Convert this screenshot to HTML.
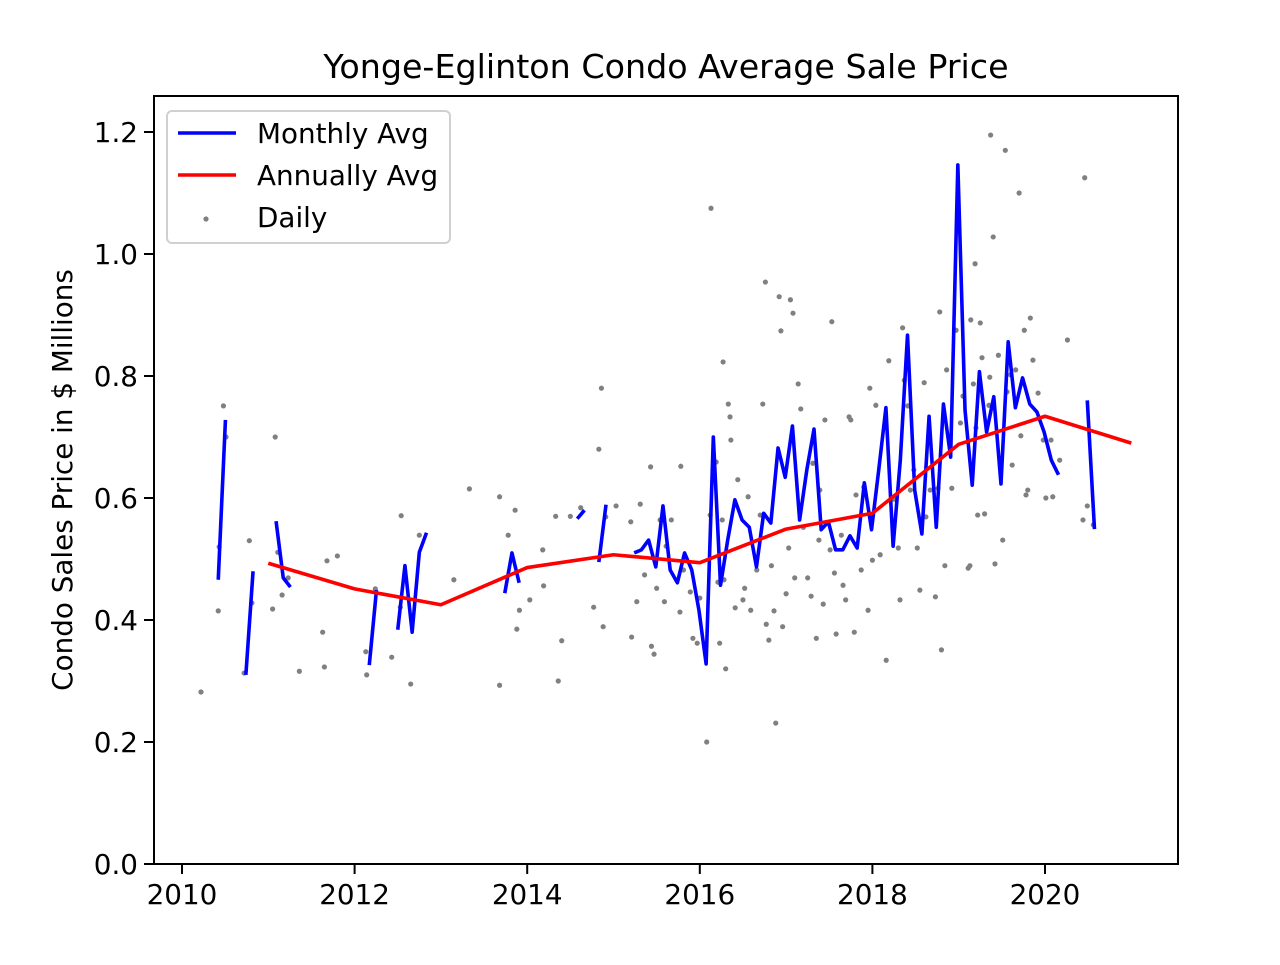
<!DOCTYPE html>
<html><head><meta charset="utf-8"><style>
html,body{margin:0;padding:0;background:#fff}
svg text{font-family:"DejaVu Sans","Liberation Sans",sans-serif;fill:#000}
</style></head><body>
<svg id="chart" width="1280" height="960" xmlns="http://www.w3.org/2000/svg">
<rect width="1280" height="960" fill="#fff"/>
<g id="plot"></g>
</svg>
<script>
const xTicks=[2010,2012,2014,2016,2018,2020];
const yTicks=[0.0,0.2,0.4,0.6,0.8,1.0,1.2];
const yTickLabels=["0.0","0.2","0.4","0.6","0.8","1.0","1.2"];
const annualYears=[2011,2012,2013,2014,2015,2016,2017,2018,2019,2020,2021];
const annualValues=[0.493,0.451,0.425,0.486,0.507,0.494,0.549,0.575,0.688,0.734,0.690];
const monthlyStarts=[2010.42,2010.74,2011.09,2012.17,2012.50,2013.74,2014.58,2014.83,2015.24,2020.49];
const monthlyValues=[
[0.466,0.728],
[0.31,0.48],
[0.562,0.469,0.454],
[0.326,0.449],
[0.384,0.489,0.38,0.511,0.543],
[0.444,0.51,0.461],
[0.566,0.58],
[0.495,0.589],
[0.51,0.515,0.531,0.487,0.587,0.482,0.461,0.51,0.482,0.416,0.328,0.70,0.457,0.531,0.597,0.564,0.552,0.487,0.575,0.559,0.682,0.634,0.718,0.564,0.646,0.713,0.548,0.561,0.515,0.515,0.538,0.518,0.625,0.548,0.646,0.748,0.521,0.662,0.867,0.613,0.541,0.734,0.552,0.754,0.667,1.146,0.744,0.621,0.807,0.708,0.766,0.623,0.856,0.748,0.797,0.754,0.741,0.708,0.662,0.638],
[0.76,0.549]
];
const dailyDates=[2010.22,2010.42,2010.43,2010.48,2010.51,2010.72,2010.78,2010.81,2011.05,2011.08,2011.11,2011.16,2011.23,2011.36,2011.63,2011.65,2011.68,2011.80,2012.13,2012.14,2012.24,2012.43,2012.54,2012.53,2012.65,2012.75,2013.15,2013.33,2013.68,2013.68,2013.78,2013.86,2013.88,2013.91,2014.03,2014.18,2014.19,2014.33,2014.36,2014.40,2014.50,2014.62,2014.77,2014.83,2014.86,2014.88,2014.91,2015.03,2015.20,2015.21,2015.27,2015.31,2015.36,2015.43,2015.44,2015.47,2015.50,2015.54,2015.59,2015.61,2015.67,2015.77,2015.78,2015.81,2015.89,2015.92,2015.97,2016.00,2016.08,2016.12,2016.13,2016.19,2016.21,2016.23,2016.26,2016.27,2016.28,2016.30,2016.33,2016.35,2016.36,2016.41,2016.44,2016.50,2016.52,2016.56,2016.59,2016.66,2016.70,2016.73,2016.76,2016.77,2016.80,2016.83,2016.86,2016.88,2016.92,2016.94,2016.96,2017.00,2017.03,2017.05,2017.08,2017.10,2017.14,2017.17,2017.20,2017.25,2017.29,2017.31,2017.35,2017.38,2017.39,2017.43,2017.45,2017.51,2017.53,2017.56,2017.58,2017.64,2017.66,2017.69,2017.73,2017.75,2017.79,2017.81,2017.87,2017.90,2017.95,2017.97,2018.00,2018.04,2018.09,2018.16,2018.19,2018.25,2018.30,2018.32,2018.35,2018.37,2018.41,2018.44,2018.48,2018.52,2018.55,2018.60,2018.62,2018.67,2018.73,2018.76,2018.78,2018.80,2018.84,2018.86,2018.92,2018.97,2019.02,2019.05,2019.11,2019.13,2019.14,2019.17,2019.19,2019.20,2019.22,2019.25,2019.27,2019.30,2019.35,2019.36,2019.37,2019.40,2019.42,2019.46,2019.51,2019.54,2019.56,2019.60,2019.62,2019.66,2019.70,2019.72,2019.76,2019.78,2019.80,2019.83,2019.86,2019.92,2019.98,2020.01,2020.07,2020.09,2020.17,2020.26,2020.44,2020.46,2020.49,2020.56];
const dailyValues=[0.282,0.415,0.52,0.751,0.70,0.313,0.53,0.428,0.418,0.70,0.511,0.441,0.469,0.316,0.38,0.323,0.497,0.505,0.348,0.31,0.451,0.339,0.571,0.421,0.295,0.539,0.466,0.615,0.293,0.602,0.539,0.58,0.385,0.416,0.433,0.515,0.456,0.57,0.30,0.366,0.57,0.584,0.421,0.68,0.78,0.389,0.569,0.587,0.561,0.372,0.43,0.59,0.474,0.651,0.357,0.344,0.452,0.564,0.43,0.521,0.564,0.413,0.652,0.482,0.446,0.37,0.362,0.436,0.20,0.572,1.075,0.659,0.462,0.362,0.564,0.823,0.466,0.32,0.754,0.733,0.695,0.42,0.63,0.433,0.452,0.602,0.416,0.482,0.572,0.754,0.954,0.393,0.367,0.489,0.415,0.231,0.93,0.874,0.389,0.443,0.518,0.925,0.903,0.469,0.787,0.746,0.552,0.469,0.439,0.657,0.37,0.531,0.613,0.426,0.728,0.515,0.889,0.477,0.377,0.539,0.457,0.433,0.733,0.728,0.38,0.605,0.482,0.618,0.416,0.78,0.498,0.752,0.507,0.334,0.825,0.598,0.518,0.433,0.879,0.793,0.751,0.613,0.646,0.518,0.449,0.789,0.569,0.613,0.438,0.616,0.905,0.351,0.489,0.81,0.616,0.875,0.723,0.767,0.485,0.489,0.892,0.787,0.984,0.715,0.572,0.887,0.83,0.574,0.752,0.798,1.195,1.028,0.492,0.834,0.531,1.17,0.774,0.802,0.654,0.81,1.10,0.702,0.875,0.605,0.613,0.895,0.826,0.772,0.695,0.60,0.695,0.602,0.662,0.859,0.564,1.125,0.587,0.556];

const L=154,R=1178,T=96,B=864;
const X=v=>182+(v-2010)*86.3;
const Y=v=>864-v*610;
const NS="http://www.w3.org/2000/svg";
const g=document.getElementById('plot');
function mk(tag,attrs,parent){const e=document.createElementNS(NS,tag);for(const k in attrs)e.setAttribute(k,attrs[k]);(parent||g).appendChild(e);return e;}

// daily points
const dg=mk('g',{});


dailyDates.forEach((d,i)=>{const c=mk('circle',{cx:X(d),cy:Y(dailyValues[i]),r:2.6,fill:'#808080'},dg);

});

// monthly
monthlyStarts.forEach((s,i)=>{const pts=monthlyValues[i].map((v,j)=>X(s+j/12)+','+Y(v)).join(' ');
const p=mk('polyline',{points:pts,fill:'none',stroke:'#0000ff','stroke-width':3.6,'stroke-linejoin':'round'});

});

// annual
const ap=mk('polyline',{points:annualYears.map((y,i)=>X(y)+','+Y(annualValues[i])).join(' '),fill:'none',stroke:'#ff0000','stroke-width':3.6,'stroke-linejoin':'round'});



// axes frame
const fr=mk('rect',{x:L,y:T,width:R-L,height:B-T,fill:'none',stroke:'#000','stroke-width':2});



xTicks.forEach(t=>{const x=X(t);mk('line',{x1:x,y1:B,x2:x,y2:B+10,stroke:'#000','stroke-width':2});
const tx=mk('text',{x:x,y:B+40,'text-anchor':'middle','font-size':27.8});tx.textContent=t;

});
yTicks.forEach((t,i)=>{const y=Y(t);mk('line',{x1:L-10,y1:y,x2:L,y2:y,stroke:'#000','stroke-width':2});
const tx=mk('text',{x:L-16,y:y+10,'text-anchor':'end','font-size':27.8});tx.textContent=yTickLabels[i];

});

const ti=mk('text',{x:666,y:78,'text-anchor':'middle','font-size':33.3});ti.textContent='Yonge-Eglinton Condo Average Sale Price';


const yl=mk('text',{x:0,y:0,'text-anchor':'middle','font-size':27.8,transform:'translate(72,480) rotate(-90)'});yl.textContent='Condo Sales Price in $ Millions';



// legend
const lg=mk('g',{});


mk('rect',{x:167,y:111,width:283,height:132,rx:5,fill:'#fff','fill-opacity':0.8,stroke:'#d0d0d0','stroke-width':2},lg);
mk('line',{x1:178,y1:133,x2:236,y2:133,stroke:'#0000ff','stroke-width':3.6},lg);
mk('line',{x1:178,y1:175,x2:236,y2:175,stroke:'#ff0000','stroke-width':3.6},lg);
mk('circle',{cx:206,cy:219,r:2.6,fill:'#808080'},lg);
[['Monthly Avg',143],['Annually Avg',185],['Daily',227]].forEach(([s,y])=>{const t=mk('text',{x:257,y:y,'font-size':27.8},lg);t.textContent=s;

});
</script>
</body></html>
